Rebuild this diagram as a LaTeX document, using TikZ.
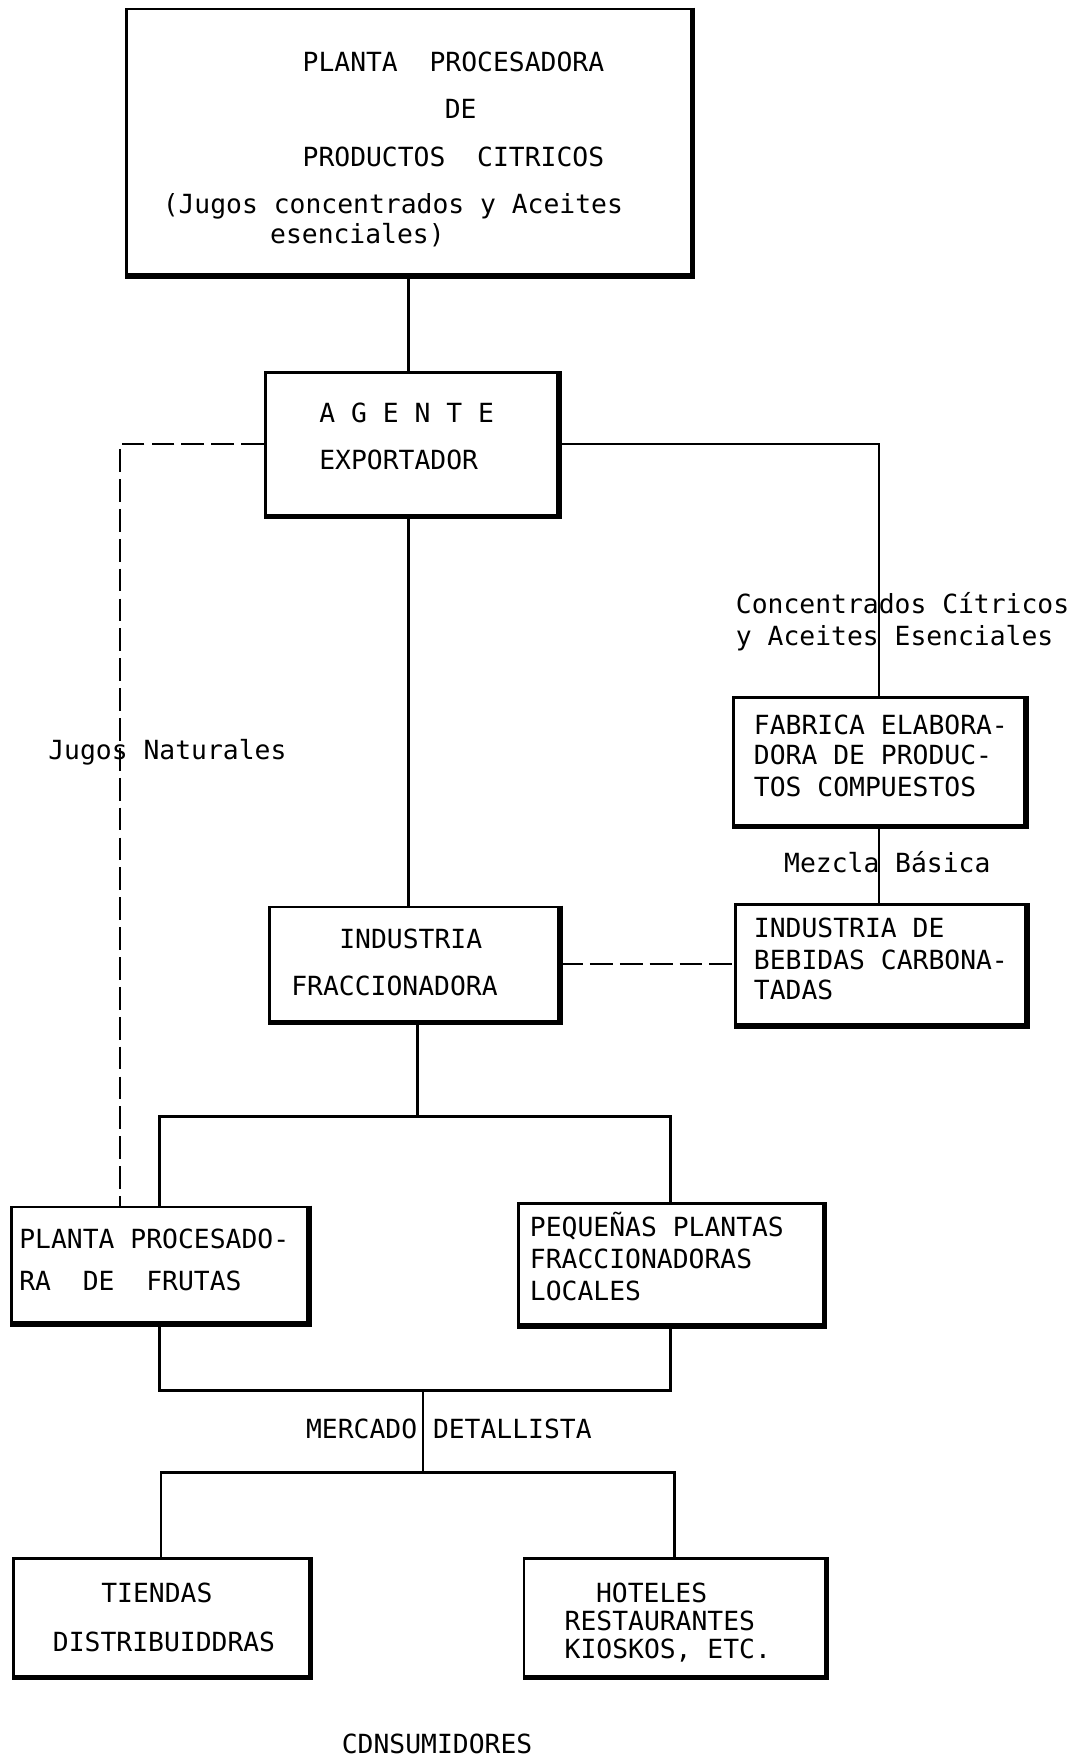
\documentclass[tikz,border=0pt]{standalone}
\usepackage{fontspec}
\setmainfont{DejaVu Sans Mono}
\usepackage{tikz}
\usetikzlibrary{fit}

\tikzset{
	caja/.style={draw, line width=1.6pt, inner sep=0pt},
	texto/.style={anchor=base west, inner sep=0pt, font=\fontsize{15}{18}\selectfont},
	linea/.style={line width=1.4pt},
	discont/.style={line width=1.4pt, dash pattern=on 13pt off 4pt},
}

\begin{document}
\frenchspacing
\begin{tikzpicture}[x=0.2mm,y=-0.2mm]
	\useasboundingbox (0,0) rectangle (1085,1756);
	% cajas
	\node[caja, fit={(126.5,9) (690.9,274.3)}] (planta) {};
	\node[caja, fit={(265.4,372.9) (557.6,515)}] (agente) {};
	\node[caja, fit={(733.4,697.6) (1024.5,825.2)}] (fabrica) {};
	\node[caja, fit={(735.6,904.7) (1025.6,1024.5)}] (bebidas) {};
	\node[caja, fit={(269.8,907) (558.7,1021)}] (fracc) {};
	\node[caja, fit={(11.2,1207) (307.9,1322.4)}] (frutas) {};
	\node[caja, fit={(518.4,1203.7) (823,1324.6)}] (pequenas) {};
	\node[caja, fit={(13.4,1558.6) (309,1676.2)}] (tiendas) {};
	\node[caja, fit={(524,1558.6) (825.2,1676.2)}] (hoteles) {};
	\foreach \c in {planta,agente,fabrica,bebidas,fracc,frutas,pequenas,tiendas,hoteles}
		\draw[line width=3.2pt] (\c.north east) -- (\c.south east) -- (\c.south west);

	% textos
	\node[texto] (pl1) at (302.3,71.6) {PLANTA~~PROCESADORA};
	\node[texto] (pl2) at (444.5,118.6) {DE};
	\node[texto] (pl3) at (302.3,166.8) {PRODUCTOS~~CITRICOS};
	\node[texto] (pl4) at (162.4,214) {(Jugos concentrados y Aceites};
	\node[texto] (pl5) at (269.8,244) {esenciales)};
	\node[texto] (ag1) at (319,422) {A G E N T E};
	\node[texto] (ag2) at (319,469) {EXPORTADOR};
	\node[texto] (jugos) at (48,759) {Jugos Naturales};
	\node[texto] (conc1) at (735.6,613) {Concentrados Cítricos};
	\node[texto] (conc2) at (735.6,645) {y Aceites Esenciales};
	\node[texto] (fa1) at (753.6,734.5) {FABRICA ELABORA-};
	\node[texto] (fa2) at (753.6,764.7) {DORA DE PRODUC-};
	\node[texto] (fa3) at (753.6,796) {TOS COMPUESTOS};
	\node[texto] (mezcla) at (783.8,872) {Mezcla Básica};
	\node[texto] (be1) at (753.6,937) {INDUSTRIA DE};
	\node[texto] (be2) at (753.6,969.6) {BEBIDAS CARBONA-};
	\node[texto] (be3) at (753.6,999.8) {TADAS};
	\node[texto] (fr1) at (339,948) {INDUSTRIA};
	\node[texto] (fr2) at (291,995) {FRACCIONADORA};
	\node[texto] (pf1) at (19,1248) {PLANTA PROCESADO-};
	\node[texto] (pf2) at (19,1290) {RA~~DE~~FRUTAS};
	\node[texto] (pq1) at (529.6,1236) {PEQUEÑAS PLANTAS};
	\node[texto] (pq2) at (529.6,1268.5) {FRACCIONADORAS};
	\node[texto] (pq3) at (529.6,1300) {LOCALES};
	\node[texto] (merc) at (305.7,1438.7) {MERCADO DETALLISTA};
	\node[texto] (ti1) at (101,1602) {TIENDAS};
	\node[texto] (ti2) at (52.6,1651.5) {DISTRIBUIDDRAS};
	\node[texto] (ho1) at (595.7,1602) {HOTELES};
	\node[texto] (ho2) at (564.3,1630) {RESTAURANTES};
	\node[texto] (ho3) at (564.3,1658) {KIOSKOS, ETC.};
	\node[texto] (cons) at (341.5,1753) {CDNSUMIDORES};

	% conexiones
	\coordinate (reparto) at (417.6,1116.3);
	\coordinate (mercado) at (423.2,1390.7);
	\coordinate (consumo) at (423.2,1472.4);
	\draw[linea] (planta.south) -- (planta.south |- agente.north);
	\draw[linea] (planta.south |- agente.south) -- (planta.south |- fracc.north);
	\draw[linea] (agente.east) -| (fabrica.north);
	\draw[linea] (fabrica.south) -- (fabrica.south |- bebidas.north);
	\draw[discont] (agente.west) -| ([xshift=22mm]frutas.north west);
	\draw[discont] (fracc.east) -- (fracc.east -| bebidas.west);
	\draw[linea] (reparto |- fracc.south) -- (reparto);
	\draw[linea] (frutas.north) |- (reparto) -| (pequenas.north);
	\draw[linea] (frutas.south) |- (mercado) -| (pequenas.south);
	\draw[linea] (mercado) -- (consumo);
	\draw[linea] (tiendas.north) |- (consumo) -| (hoteles.north);
\end{tikzpicture}
\end{document}
